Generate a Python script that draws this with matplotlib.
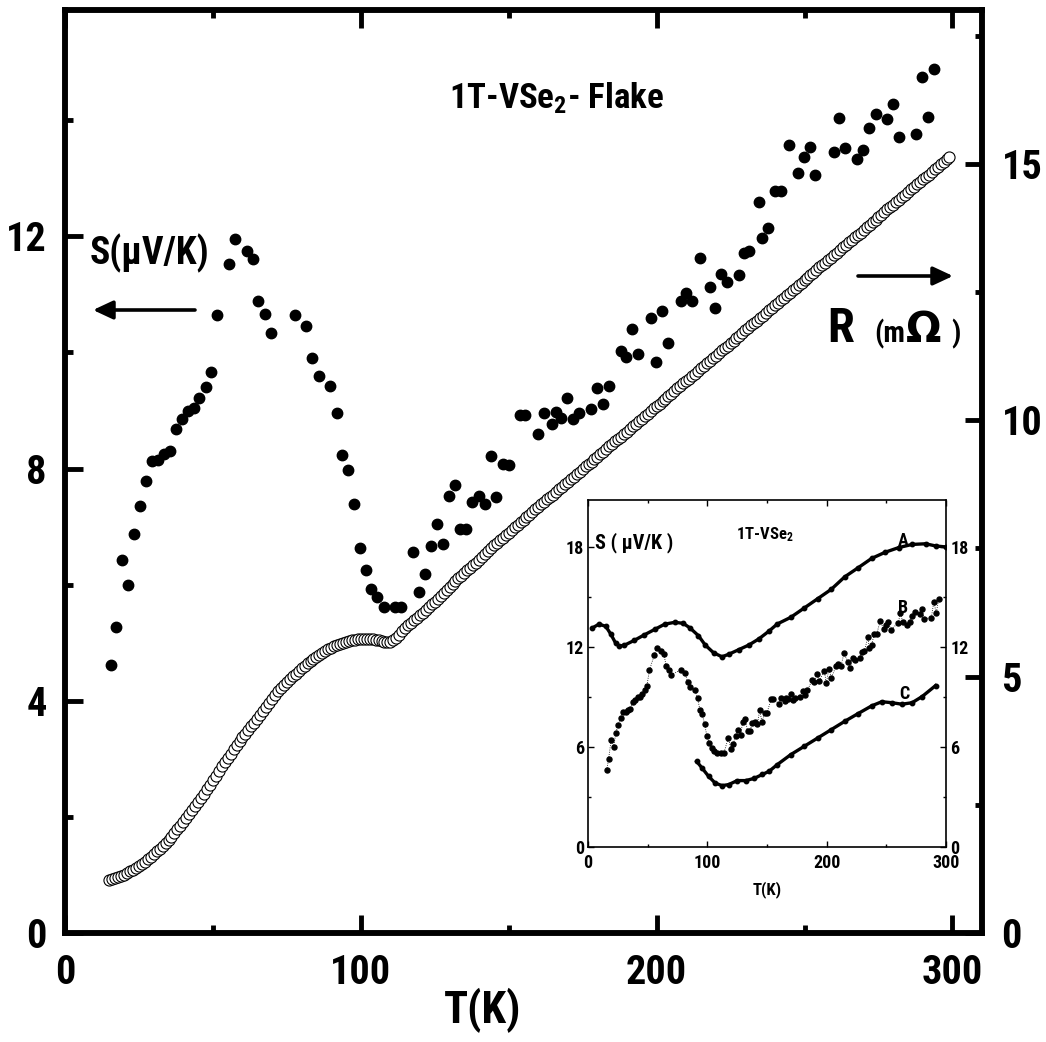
import numpy as np
import matplotlib
matplotlib.use('Agg')
import matplotlib.pyplot as plt

plt.rcParams['font.family'] = ['Roboto Condensed', 'DejaVu Sans']
plt.rcParams['font.stretch'] = 'condensed'
plt.rcParams['font.weight'] = 'bold'
plt.rcParams['mathtext.fontset'] = 'custom'
plt.rcParams['mathtext.rm'] = 'Roboto Condensed:bold'
plt.rcParams['mathtext.default'] = 'rm'

# thermopower S (filled dots), main panel and curve B of the inset
T_s = [15.7, 17.2, 19.4, 21.4, 23.4, 25.3, 27.3, 29.3, 31.5, 33.5,
       35.5, 37.4, 39.4, 41.7, 43.6, 45.4, 47.5, 49.3, 51.5, 55.5,
       57.5, 61.5, 63.6, 65.4, 67.6, 69.6, 77.6, 81.4, 83.5, 85.7,
       89.5, 91.8, 93.8, 95.7, 97.7, 99.7, 101.6, 103.6, 105.6, 107.8,
       111.7, 113.7, 117.7, 119.7, 121.7, 123.8, 125.8, 127.8, 129.7, 131.8,
       133.7, 135.7, 137.7, 139.9, 141.9, 143.9, 145.8, 148.1, 150.0, 153.7,
       155.4, 159.9, 161.9, 164.8, 165.9, 167.8, 169.8, 171.7, 173.8, 177.9,
       179.8, 181.9, 183.9, 187.8, 189.7, 191.8, 193.7, 198.0, 199.7, 201.9,
       203.8, 208.1, 209.8, 212.0, 214.5, 217.9, 219.9, 221.9, 223.7, 227.7,
       229.7, 231.4, 234.6, 235.6, 237.6, 239.9, 241.9, 244.9, 247.7, 249.8,
       251.7, 253.6, 259.9, 261.8, 263.7, 267.7, 269.7, 271.7, 274.0, 277.9,
       279.8, 281.8, 287.7, 289.8, 291.8, 293.9]
S_s = [4.62, 5.27, 6.42, 6.00, 6.87, 7.36, 7.78, 8.13, 8.14, 8.26,
       8.30, 8.69, 8.85, 8.99, 9.04, 9.21, 9.41, 9.66, 10.64, 11.52,
       11.95, 11.75, 11.61, 10.89, 10.66, 10.34, 10.64, 10.45, 9.91, 9.59,
       9.42, 8.95, 8.24, 7.97, 7.39, 6.64, 6.25, 5.93, 5.79, 5.62,
       5.62, 5.62, 6.57, 5.88, 6.19, 6.67, 7.05, 6.70, 7.53, 7.71,
       6.96, 6.96, 7.43, 7.53, 7.39, 8.21, 7.51, 8.08, 8.07, 8.92,
       8.92, 8.60, 8.95, 8.76, 8.97, 8.87, 9.21, 8.86, 8.95, 9.03,
       9.39, 9.12, 9.43, 10.02, 9.92, 10.41, 9.97, 10.60, 9.84, 10.71,
       10.17, 10.89, 11.02, 10.89, 11.63, 11.13, 10.77, 11.36, 11.21, 11.33,
       11.71, 11.75, 12.59, 11.98, 12.14, 12.79, 12.79, 13.58, 13.10, 13.36,
       13.54, 13.06, 13.45, 14.04, 13.53, 13.34, 13.49, 13.87, 14.10, 14.03,
       14.28, 13.72, 13.77, 14.74, 14.05, 14.89]

# resistance R (open circles), one reading per kelvin from 15 K to 299 K
T_r = np.arange(15, 300)
R = [1.03, 1.05, 1.07, 1.09, 1.11, 1.14, 1.17, 1.20, 1.23, 1.27,
     1.31, 1.35, 1.39, 1.44, 1.49, 1.54, 1.59, 1.64, 1.70, 1.76,
     1.82, 1.88, 1.95, 2.02, 2.09, 2.16, 2.24, 2.32, 2.40, 2.48,
     2.56, 2.64, 2.72, 2.80, 2.89, 2.98, 3.07, 3.16, 3.25, 3.34,
     3.42, 3.50, 3.59, 3.67, 3.75, 3.82, 3.89, 3.96, 4.03, 4.10,
     4.17, 4.25, 4.33, 4.41, 4.49, 4.57, 4.64, 4.71, 4.78, 4.84,
     4.90, 4.96, 5.01, 5.06, 5.11, 5.16, 5.21, 5.26, 5.30, 5.35,
     5.39, 5.43, 5.47, 5.50, 5.53, 5.56, 5.59, 5.62, 5.64, 5.66,
     5.68, 5.70, 5.71, 5.72, 5.73, 5.74, 5.74, 5.74, 5.74, 5.73,
     5.72, 5.71, 5.69, 5.68, 5.67, 5.68, 5.71, 5.76, 5.82, 5.88,
     5.94, 6.00, 6.05, 6.10, 6.15, 6.20, 6.25, 6.30, 6.36, 6.41,
     6.46, 6.51, 6.57, 6.63, 6.69, 6.75, 6.81, 6.87, 6.92, 6.97,
     7.02, 7.07, 7.12, 7.17, 7.22, 7.27, 7.33, 7.39, 7.45, 7.50,
     7.56, 7.61, 7.66, 7.71, 7.76, 7.81, 7.86, 7.91, 7.96, 8.01,
     8.06, 8.11, 8.16, 8.21, 8.26, 8.31, 8.36, 8.41, 8.46, 8.51,
     8.55, 8.60, 8.65, 8.70, 8.75, 8.80, 8.85, 8.90, 8.95, 9.00,
     9.05, 9.10, 9.14, 9.19, 9.24, 9.29, 9.34, 9.39, 9.44, 9.49,
     9.54, 9.59, 9.64, 9.68, 9.73, 9.78, 9.83, 9.88, 9.93, 9.98,
     10.03, 10.08, 10.13, 10.18, 10.23, 10.27, 10.32, 10.37, 10.42, 10.47,
     10.52, 10.57, 10.62, 10.67, 10.72, 10.77, 10.81, 10.86, 10.91, 10.96,
     11.01, 11.06, 11.11, 11.16, 11.21, 11.26, 11.31, 11.36, 11.40, 11.45,
     11.50, 11.55, 11.60, 11.65, 11.70, 11.75, 11.80, 11.85, 11.90, 11.94,
     11.99, 12.04, 12.09, 12.14, 12.19, 12.24, 12.29, 12.34, 12.39, 12.44,
     12.49, 12.53, 12.58, 12.63, 12.68, 12.73, 12.78, 12.83, 12.88, 12.93,
     12.98, 13.03, 13.07, 13.12, 13.17, 13.22, 13.27, 13.32, 13.37, 13.42,
     13.47, 13.52, 13.57, 13.62, 13.66, 13.71, 13.76, 13.81, 13.86, 13.91,
     13.96, 14.01, 14.06, 14.11, 14.16, 14.20, 14.25, 14.30, 14.35, 14.40,
     14.45, 14.50, 14.55, 14.60, 14.65, 14.70, 14.74, 14.79, 14.84, 14.89,
     14.94, 14.99, 15.04, 15.09, 15.14]

# inset curves A and C
T_a = [3.6, 9.2, 14.9, 19.1, 23.3, 26.2, 30.4, 38.9, 47.3, 55.8,
       64.3, 72.7, 79.8, 85.5, 92.5, 98.2, 105.2, 112.3, 117.9, 126.4,
       134.9, 143.3, 151.8, 158.6, 169.9, 181.2, 192.5, 203.8, 215.1, 226.4,
       237.7, 249.0, 260.3, 271.6, 282.9, 291.3, 299.8]
S_a = [13.16, 13.39, 13.26, 12.79, 12.23, 12.08, 12.12, 12.42, 12.75, 13.07,
       13.39, 13.50, 13.44, 13.16, 12.70, 12.14, 11.67, 11.43, 11.58, 11.86,
       12.14, 12.51, 12.98, 13.40, 13.80, 14.36, 14.92, 15.48, 16.23, 16.78,
       17.34, 17.71, 17.99, 18.18, 18.22, 18.09, 18.03]
T_c = [91.1, 95.3, 101.0, 106.6, 112.3, 117.9, 125.0, 132.1, 139.1, 146.2,
       151.8, 158.6, 169.9, 181.2, 192.5, 203.8, 215.1, 226.4, 237.7, 246.2,
       254.6, 263.1, 271.6, 280.0, 291.3]
S_c = [5.14, 4.77, 4.25, 3.84, 3.69, 3.75, 3.99, 3.99, 4.12, 4.36,
       4.55, 4.95, 5.55, 6.05, 6.55, 7.05, 7.55, 8.02, 8.48, 8.73,
       8.67, 8.58, 8.67, 9.04, 9.70]

W, H = 1046, 1042


def fpos(px, py):
    return px / W, 1 - py / H


fig = plt.figure(figsize=(W / 100, H / 100), dpi=100)
ax = fig.add_axes([65 / W, 1 - 933 / H, 917 / W, 923 / H])
ax2 = ax.twinx()

ax.plot(T_s, S_s, 'o', color='black', ms=7.5, zorder=3)
ax2.plot(T_r, R, 'o', mfc='white', mec='black', ms=8, mew=0.8)

ax.set_xlim(0, 310)
ax.set_ylim(0, 15.9)
ax2.set_ylim(0, 18)
ax.set_xticks([0, 100, 200, 300])
ax.set_xticks([50, 150, 250], minor=True)
ax.set_yticks([0, 4, 8, 12])
ax.set_yticks([2, 6, 10, 14], minor=True)
ax2.set_yticks([0, 5, 10, 15])
ax2.set_yticks([2.5, 7.5, 12.5, 17.5], minor=True)

ax.tick_params(which='both', direction='in', top=True, right=False, width=3.5)
ax.tick_params(which='major', length=13, labelsize=29)
ax.tick_params(axis='x', which='major', pad=15)
ax.tick_params(axis='y', which='major', pad=13)
ax.tick_params(which='minor', length=6)
ax2.tick_params(which='both', direction='in', width=3.5)
ax2.tick_params(which='major', length=12, labelsize=29, pad=14)
ax2.tick_params(which='minor', length=5)
for a in (ax, ax2):
    for sp in a.spines.values():
        sp.set_linewidth(4)

fig.text(*fpos(483, 1010), 'T(K)', fontsize=32, ha='center', va='center')
fig.text(*fpos(556, 98), '1T-VSe$_2$- Flake', fontsize=25, ha='center', va='center')
fig.text(*fpos(90, 253), 'S(μV/K)', fontsize=27, ha='left', va='center')
fig.text(*fpos(827, 342), 'R', fontsize=35, ha='left', va='baseline')
fig.text(*fpos(874, 342), '(m', fontsize=21, ha='left', va='baseline')
fig.text(*fpos(906, 342), 'Ω', fontsize=30, ha='left', va='baseline',
         family='DejaVu Sans', fontstretch='normal')
fig.text(*fpos(951, 342), ')', fontsize=21, ha='left', va='baseline')

arrow = dict(arrowstyle='-|>,head_length=0.6,head_width=0.28', lw=2.6,
             color='black', shrinkA=0, shrinkB=0, mutation_scale=20)
ax.annotate('', xy=fpos(93, 310), xytext=fpos(195, 310),
            xycoords='figure fraction', textcoords='figure fraction', arrowprops=arrow)
ax.annotate('', xy=fpos(953, 276), xytext=fpos(858, 276),
            xycoords='figure fraction', textcoords='figure fraction', arrowprops=arrow)

# inset
axi = fig.add_axes([588 / W, 1 - 847 / H, 358 / W, 347 / H])
axi.plot(T_a, S_a, '-o', color='black', lw=2.4, ms=3.2)
axi.plot(T_s, S_s, ':o', color='black', lw=0.6, ms=3.6)
axi.plot(T_c, S_c, '-o', color='black', lw=2.4, ms=3.2)
axi.set_xlim(0, 300)
axi.set_ylim(0, 20.85)
axi.set_xticks([0, 100, 200, 300])
axi.set_xticks([50, 150, 250], minor=True)
axi.set_yticks([0, 6, 12, 18])
axi.set_yticks([3, 9, 15], minor=True)
axi.tick_params(which='both', direction='in', top=True, right=True, labelright=True,
                width=1, labelsize=13, pad=3)
axi.tick_params(axis='x', which='major', pad=5)
axi.tick_params(which='major', length=4)
axi.tick_params(which='minor', length=2.5)
for sp in axi.spines.values():
    sp.set_linewidth(1.2)

fig.text(*fpos(767, 890), 'T(K)', fontsize=12, ha='center', va='center')
fig.text(*fpos(595, 543), 'S ( μV/K )', fontsize=14.5, ha='left', va='center')
fig.text(*fpos(765, 535), '1T-VSe$_2$', fontsize=12, ha='center', va='center')
fig.text(*fpos(903, 541), 'A', fontsize=13, ha='center', va='center')
fig.text(*fpos(903, 608), 'B', fontsize=13, ha='center', va='center')
fig.text(*fpos(904, 694), 'C', fontsize=13, ha='center', va='center')

fig.savefig('out.png', dpi=100)
